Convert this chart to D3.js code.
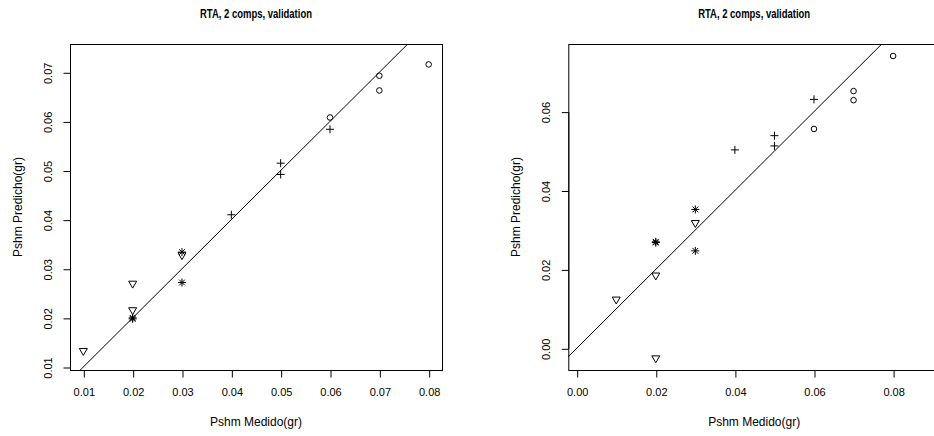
<!DOCTYPE html>
<html><head><meta charset="utf-8">
<script src="https://cdn.jsdelivr.net/npm/d3@7"></script>
<style>body{margin:0;background:#fff}svg{display:block}text{font-family:"Liberation Sans",Arial,sans-serif;fill:#000}</style>
</head><body>
<script>
// ---- data ----
const titleText = "RTA, 2 comps, validation";
const xLabel = "Pshm Medido(gr)";
const yLabel = "Pshm Predicho(gr)";
const measured = [0.01,0.02,0.02,0.03, 0.02,0.02,0.03,0.03, 0.04,0.05,0.05,0.06, 0.06,0.07,0.07,0.08];
const symbols  = ["tri","tri","tri","tri","ast","ast","ast","ast","plus","plus","plus","plus","circ","circ","circ","circ"];
const predLeft  = [0.0133,0.0270,0.0216,0.0328, 0.0198,0.0200,0.0334,0.0272, 0.0410,0.0515,0.0492,0.0584, 0.0608,0.0693,0.0663,0.0716];
const predRight = [0.0124,0.0185,-0.0025,0.0318, 0.0268,0.0270,0.0352,0.0247, 0.0503,0.0539,0.0513,0.0631, 0.0556,0.0652,0.0629,0.0741];
const xTicksLeft  = [0.01,0.02,0.03,0.04,0.05,0.06,0.07,0.08];
const yTicksLeft  = [0.01,0.02,0.03,0.04,0.05,0.06,0.07];
const xTicksRight = [0.00,0.02,0.04,0.06,0.08];
const yTicksRight = [0.00,0.02,0.04,0.06];

const W = 934, H = 436;
const svg = d3.select("body").append("svg").attr("width", W).attr("height", H);

const panels = [
  {left:70, right:442, xDom:[0.0073,0.0827], yDom:[0.00939,0.07576], pred:predLeft, xt:xTicksLeft, yt:yTicksLeft},
  {left:568.3, right:940, xDom:[-0.00212,0.09186], yDom:[-0.0055,0.07714], pred:predRight, xt:xTicksRight, yt:yTicksRight}
];
const plotTop = 44, plotBottom = 370;

panels.forEach((p,i)=>{
  const g = svg.append("g");
  const x = d3.scaleLinear().domain(p.xDom).range([p.left, p.right]);
  const y = d3.scaleLinear().domain(p.yDom).range([plotBottom, plotTop]);
  const clipId = "clip"+i;
  svg.append("clipPath").attr("id", clipId).append("rect")
    .attr("x", p.left).attr("y", plotTop).attr("width", p.right-p.left).attr("height", plotBottom-plotTop);

  // box
  g.append("rect").attr("x", p.left+0.5).attr("y", plotTop+0.5)
    .attr("width", p.right-p.left).attr("height", plotBottom-plotTop)
    .attr("fill","none").attr("stroke","#000").attr("stroke-width",1);

  // x axis
  const xa = g.append("g").attr("transform", `translate(0.5,${plotBottom+0.5})`)
    .call(d3.axisBottom(x).tickValues(p.xt).tickFormat(d3.format(".2f")).tickSize(7).tickPadding(11));
  xa.select(".domain").attr("d", `M${x(p.xt[0])},0H${x(p.xt[p.xt.length-1])}`);
  xa.selectAll("text").attr("font-size", 11).attr("font-family","Liberation Sans, Arial, sans-serif");

  // y axis
  const ya = g.append("g").attr("transform", `translate(${p.left+0.5},0.5)`)
    .call(d3.axisLeft(y).tickValues(p.yt).tickFormat(d3.format(".2f")).tickSize(7));
  ya.select(".domain").attr("d", `M0,${y(p.yt[0])}V${y(p.yt[p.yt.length-1])}`);
  ya.selectAll(".tick text")
    .attr("x", null).attr("dy", null)
    .attr("transform", "translate(-19,0) rotate(-90)")
    .attr("text-anchor", "middle")
    .attr("font-size", 11).attr("font-family","Liberation Sans, Arial, sans-serif");

  // 1:1 line
  const lo = Math.min(p.xDom[0], p.yDom[0]) - 0.01, hi = Math.max(p.xDom[1], p.yDom[1]) + 0.01;
  g.append("line").attr("clip-path", `url(#${clipId})`)
    .attr("x1", x(lo)).attr("y1", y(lo)).attr("x2", x(hi)).attr("y2", y(hi))
    .attr("stroke","#000").attr("stroke-width",1);

  // points
  measured.forEach((m,k)=>{
    const cx = x(m), cy = y(p.pred[k]), s = symbols[k];
    const pg = g.append("g").attr("transform", `translate(${cx},${cy})`)
      .attr("fill","none").attr("stroke","#000").attr("stroke-width",1);
    if (s === "circ") pg.append("circle").attr("r", 2.8);
    else if (s === "plus") pg.append("path").attr("d","M-4,0H4M0,-4V4");
    else if (s === "tri") pg.append("path").attr("d","M-4,-2.3L4,-2.3L0,4.6Z");
    else if (s === "ast") pg.append("path").attr("d","M-4,0H4M0,-4V4M-2.9,-2.9L2.9,2.9M-2.9,2.9L2.9,-2.9");
  });

  // titles
  const cxp = (p.left + p.right)/2;
  g.append("text").attr("x", cxp).attr("y", 18).attr("text-anchor","middle")
    .attr("font-size", 12).attr("font-weight","bold")
    .attr("textLength", 112).attr("lengthAdjust", "spacingAndGlyphs").text(titleText);
  g.append("text").attr("x", cxp).attr("y", 426).attr("text-anchor","middle")
    .attr("font-size", 12).text(xLabel);
  g.append("text").attr("transform", `translate(${p.left-48},${(plotTop+plotBottom)/2}) rotate(-90)`)
    .attr("text-anchor","middle").attr("font-size", 12).text(yLabel);
});
</script>
</body></html>
